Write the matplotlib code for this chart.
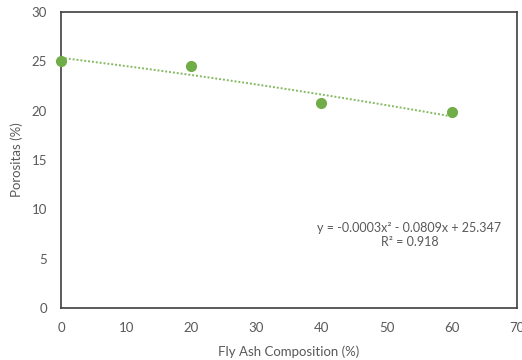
import numpy as np
from matplotlib import pyplot as plt

plt.rcParams['font.family'] = ['Lato', 'DejaVu Sans']

fly_ash = [0, 20, 40, 60]
porositas = [25.0, 24.5, 20.8, 19.9]
trend_coef = [-0.0003, -0.0809, 25.347]
trend_label = "y = -0.0003x² - 0.0809x + 25.347\nR² = 0.918"

green = "#70AD47"
grey = "#595959"

fig = plt.figure(figsize=(5.22, 3.6), dpi=100)
ax = fig.add_axes([0.117, 0.144, 0.873, 0.823])

xs = np.linspace(min(fly_ash), max(fly_ash), 100)
ax.plot(xs, np.polyval(trend_coef, xs), linestyle=(0, (1, 1)), color=green, lw=1.4, alpha=0.85)
ax.plot(fly_ash, porositas, "o", color=green, markersize=7, clip_on=False, zorder=3)

ax.set_xlim(0, 70)
ax.set_ylim(0, 30)
ax.set_xticks(range(0, 71, 10))
ax.set_yticks(range(0, 31, 5))
ax.tick_params(length=0, labelsize=9.5, labelcolor=grey, pad=10)
for s in ax.spines.values():
    s.set_color("#404040")
    s.set_linewidth(1.2)

ax.set_xlabel("Fly Ash Composition (%)", fontsize=9.5, color=grey, labelpad=8)
ax.set_ylabel("Porositas (%)", fontsize=9.5, color=grey, labelpad=6)
ax.text(53.5, 7.4, trend_label, ha="center", va="center", fontsize=9, color=grey, linespacing=1.25)

plt.savefig("out.png", facecolor="white")
